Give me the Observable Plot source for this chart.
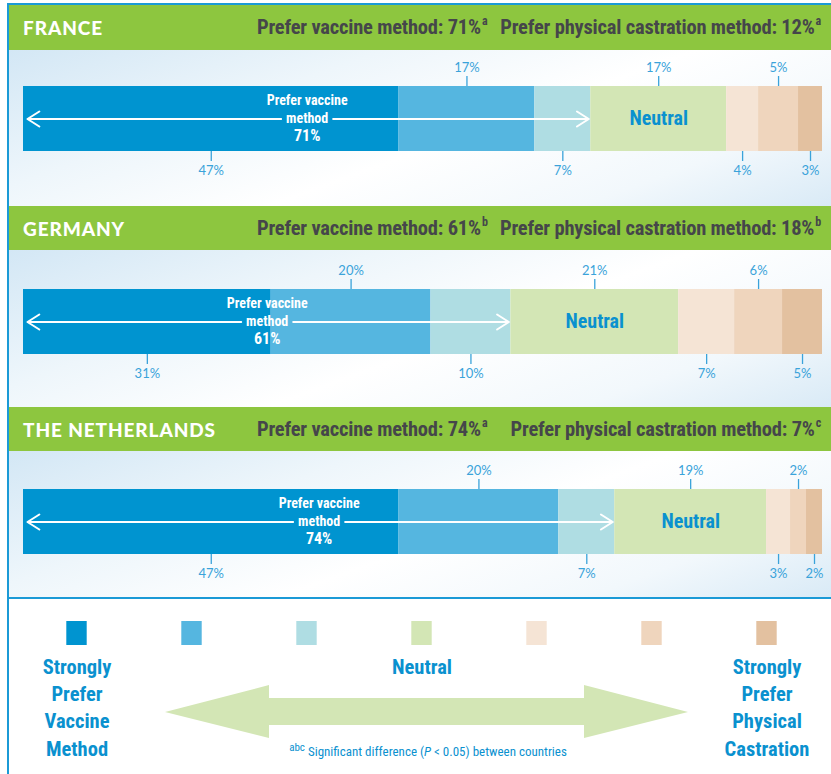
<!DOCTYPE html>
<html><head><meta charset="utf-8">
<script src="https://cdn.jsdelivr.net/npm/d3@7"></script>
<script src="https://cdn.jsdelivr.net/npm/@observablehq/plot@0.6"></script>
<style>
html,body{margin:0;padding:0;background:#fff;}
#root{position:relative;width:831px;height:774px;overflow:hidden;background:#fff;font-family:Lato,sans-serif;}
.cond{font-family:"Roboto Condensed","DejaVu Sans Condensed",sans-serif;font-stretch:condensed;}
.hdr{position:absolute;left:9px;width:822px;height:45px;background:#8dc63f;}
.cname{position:absolute;left:14px;top:0;color:#fff;font-family:Lato,sans-serif;font-weight:900;font-size:19px;line-height:45px;letter-spacing:0.9px;}
.pv,.pc{position:absolute;top:0;line-height:45px;color:#45464a;font-weight:bold;font-size:20.5px;letter-spacing:-0.2px;}
.pv{left:248px;}
.pc{right:10px;}
.hdr sup{font-size:12px;vertical-align:9px;line-height:0;margin-left:1px;}
.bg{position:absolute;left:9px;width:822px;background:linear-gradient(160deg,#d3e7f5 0%,#eef6fb 30%,#ffffff 55%,#f2f8fc 80%,#d9eaf6 100%);}
.panel{position:absolute;left:9px;}
</style></head><body><div id="root"></div><script>
// ---- data ----
const countries = ["FRANCE", "GERMANY", "THE NETHERLANDS"];
const levels = ["Strongly prefer vaccine", "Prefer vaccine", "Slightly prefer vaccine", "Neutral",
  "Slightly prefer physical castration", "Prefer physical castration", "Strongly prefer physical castration"];
const franceValues = [47, 17, 7, 17, 4, 5, 3];
const germanyValues = [31, 20, 10, 21, 7, 6, 5];
const netherlandsValues = [47, 20, 7, 19, 3, 2, 2];
const preferVaccine = [71, 61, 74];
const preferCastration = [12, 18, 7];
const vaccineSig = ["a", "b", "a"];
const castrationSig = ["a", "b", "c"];
const legendLabels = ["Strongly\nPrefer\nVaccine\nMethod", "", "", "Neutral", "", "", "Strongly\nPrefer\nPhysical\nCastration"];
const footnoteText = "Significant difference (P < 0.05) between countries";

// ---- styles ----
const levelColors = ["#0094d0", "#55b6e0", "#afdde3", "#d3e6b5", "#f5e4d5", "#efd5bd", "#e3c1a0"];
const labelBlue = "#3aa3da";
const strongBlue = "#0a91cf";
const condFont = '"Roboto Condensed","DejaVu Sans Condensed",sans-serif';
const root = document.getElementById("root");

function addDiv(cls, css, html) {
  const d = document.createElement("div");
  d.className = cls; Object.assign(d.style, css); if (html != null) d.innerHTML = html;
  root.appendChild(d); return d;
}

// frame lines
addDiv("", {position:"absolute", left:"7px", top:"3px", width:"824px", height:"2px", background:"#1b9ad6"});
addDiv("", {position:"absolute", left:"7px", top:"3px", width:"2px", height:"771px", background:"#1b9ad6"});

const allValues = [franceValues, germanyValues, netherlandsValues];
const layout = [
  {hdr: 5, top: 50, h: 156, mt: 36},
  {hdr: 206, top: 250, h: 157, mt: 39},
  {hdr: 407, top: 451, h: 146, mt: 38}
];
const barH = 65;

function panel(i) {
  const country = countries[i];
  const L = layout[i];
  let cum = 0;
  const rows = allValues[i].map((v, k) => {
    const r = {country, level: levels[k], k, value: v, mid: cum + v / 2, label: v + "%"};
    cum += v; return r;
  });
  const above = rows.filter(r => r.k % 2 === 1);
  const below = rows.filter(r => r.k % 2 === 0);
  const pv = preferVaccine[i];
  const center = [{country, x: pv / 2, end: 0, t: "Prefer vaccine\nmethod", pct: `${pv}%`}];
  const right = [{country, x: pv / 2, end: pv}];
  const svg = Plot.plot({
    width: 822, height: L.h,
    marginLeft: 14, marginRight: 9, marginTop: L.mt, marginBottom: L.h - L.mt - barH,
    x: {domain: [0, 100], axis: null},
    y: {domain: [country], axis: null, padding: 0},
    color: {domain: levels, range: levelColors},
    style: {background: "transparent", fontFamily: "Lato, sans-serif", overflow: "visible"},
    marks: [
      Plot.barX(rows, {x: "value", y: "country", fill: "level"}),
      Plot.tickX(above, {x: "mid", y: "country", stroke: labelBlue, strokeWidth: 1.3, insetTop: -10, insetBottom: barH}),
      Plot.tickX(below, {x: "mid", y: "country", stroke: labelBlue, strokeWidth: 1.3, insetTop: barH, insetBottom: -10}),
      Plot.text(above, {x: "mid", y: "country", text: "label", dy: -(barH / 2 + 19), fill: labelBlue, fontSize: 13}),
      Plot.text(below, {x: "mid", y: "country", text: "label", dy: barH / 2 + 19, fill: labelBlue, fontSize: 13}),
      Plot.text(rows.filter(r => r.level === "Neutral"), {x: "mid", y: "country", text: "level", fill: strongBlue, fontSize: 20, fontWeight: "bold", fontFamily: condFont}),
      Plot.arrow(center, {x1: "x", x2: "end", y1: "country", y2: "country", stroke: "white", strokeWidth: 2, headLength: 10.5, headAngle: 65, insetStart: 26, insetEnd: 4}),
      Plot.arrow(right, {x1: "x", x2: "end", y1: "country", y2: "country", stroke: "white", strokeWidth: 2, headLength: 10.5, headAngle: 65, insetStart: 26, insetEnd: 2}),
      Plot.text(center, {x: "x", y: "country", text: "t", dy: -11, fill: "white", fontSize: 14, fontWeight: "bold", lineHeight: 1.33, fontFamily: condFont}),
      Plot.text(center, {x: "x", y: "country", text: "pct", dy: 17, fill: "white", fontSize: 16, fontWeight: "bold", fontFamily: condFont})
    ]
  });
  addDiv("bg", {top: L.top + "px", height: L.h + "px"});
  addDiv("hdr", {top: L.hdr + "px", height: (L.top - L.hdr) + "px"},
    `<span class="cname">${country}</span>` +
    `<span class="pv cond">Prefer vaccine method: ${pv}%<sup>${vaccineSig[i]}</sup></span>` +
    `<span class="pc cond">Prefer physical castration method: ${preferCastration[i]}%<sup>${castrationSig[i]}</sup></span>`);
  const p = addDiv("panel", {top: L.top + "px"});
  p.appendChild(svg);
}
[0, 1, 2].forEach(panel);

// separator line
addDiv("", {position:"absolute", left:"9px", top:"597px", width:"822px", height:"2px", background:"#1b9ad6"});

// legend
const legendSvg = Plot.plot({
  width: 822, height: 175,
  marginLeft: 7.7, marginRight: 4.7, marginTop: 22, marginBottom: 129,
  x: {type: "band", domain: levels, padding: 0, axis: null},
  color: {domain: levels, range: levelColors},
  style: {background: "transparent", overflow: "visible"},
  marks: [
    Plot.cell(levels, {x: d => d, fill: d => d, insetLeft: 47.3, insetRight: 47.3}),
    Plot.text(levels, {x: d => d, text: (d, j) => legendLabels[j], frameAnchor: "bottom", lineAnchor: "top", dy: 9,
      fill: strongBlue, fontSize: 20.5, fontWeight: "bold", lineHeight: 1.33, fontFamily: condFont})
  ]
});
const arrowSvg = `<svg width="831" height="175" style="position:absolute;left:0;top:599px"><polygon fill="#d3e6b5" points="165,113 269,86 269,99 584,99 584,86 688,113 584,139 584,126 269,126 269,139"/></svg>`;
addDiv("", {position:"absolute", left:"0", top:"0"}, arrowSvg);
const lg = addDiv("", {position:"absolute", left:"9px", top:"599px"});
lg.appendChild(legendSvg);
addDiv("cond", {position:"absolute", left:"228px", width:"400px", top:"741px", textAlign:"center", color:strongBlue, fontSize:"13px"},
  `<sup style="font-size:11px">abc</sup> ` + footnoteText.replace("P", "<i>P</i>"));
</script></body></html>
